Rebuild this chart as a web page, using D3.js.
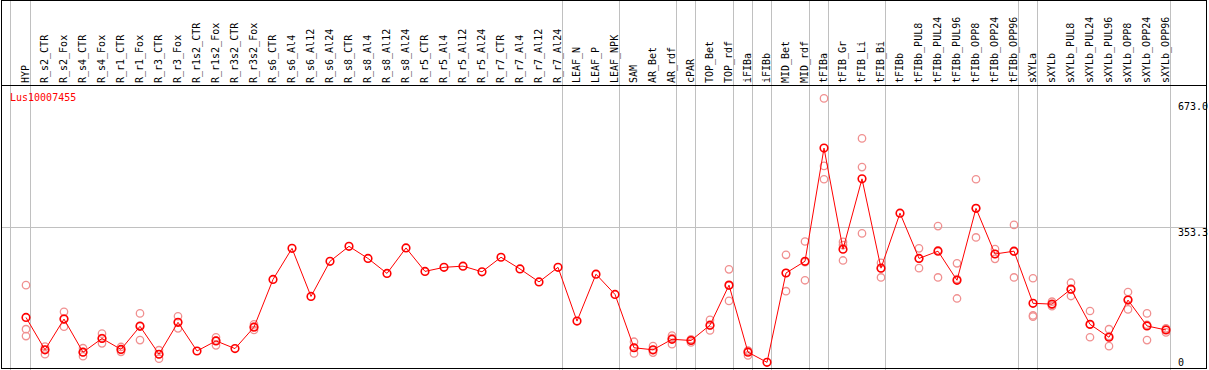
<!DOCTYPE html>
<html>
<head>
<meta charset="utf-8">
<script src="https://cdn.jsdelivr.net/npm/d3@7"></script>
<style>
  body { margin: 0; background: #fff; }
  svg { display: block; }
  text { font-family: "DejaVu Sans Mono", "Liberation Mono", monospace; font-size: 10px; }
</style>
</head>
<body>
<svg id="chart" width="1209" height="370"></svg>
<script>
// sample names, in column order
const samples = ["HYP", "R_s2_CTR", "R_s2_Fox", "R_s4_CTR", "R_s4_Fox", "R_r1_CTR", "R_r1_Fox",
  "R_r3_CTR", "R_r3_Fox", "R_r1s2_CTR", "R_r1s2_Fox", "R_r3s2_CTR", "R_r3s2_Fox", "R_s6_CTR",
  "R_s6_Al4", "R_s6_Al12", "R_s6_Al24", "R_s8_CTR", "R_s8_Al4", "R_s8_Al12", "R_s8_Al24",
  "R_r5_CTR", "R_r5_Al4", "R_r5_Al12", "R_r5_Al24", "R_r7_CTR", "R_r7_Al4", "R_r7_Al12",
  "R_r7_Al24", "LEAF_N", "LEAF_P", "LEAF_NPK", "SAM", "AR_Bet", "AR_rdf", "cPAR", "TOP_Bet",
  "TOP_rdf", "iFIBa", "iFIBb", "MID_Bet", "MID_rdf", "tFIBa", "tFIB_Gr", "tFIB_Li", "tFIB_Bi",
  "tFIBb", "tFIBb_PUL8", "tFIBb_PUL24", "tFIBb_PUL96", "tFIBb_OPP8", "tFIBb_OPP24", "tFIBb_OPP96",
  "sXYLa", "sXYLb", "sXYLb_PUL8", "sXYLb_PUL24", "sXYLb_PUL96", "sXYLb_OPP8", "sXYLb_OPP24",
  "sXYLb_OPP96"];

// mean expression per sample
const means = [130, 50, 126, 44, 78, 51, 108, 39, 118, 47, 72, 53, 106, 224,
  301, 182, 269, 306, 276, 239, 302, 244, 254, 257, 243, 279, 250, 218,
  254, 121, 237, 187, 55, 50, 76, 73, 111, 210, 44, 19, 240, 269,
  549, 299, 473, 252, 388, 276, 294, 222, 400, 287, 294,
  165, 163, 200, 113, 81, 173, 109, 99];

// individual replicates (empty where they sit under the mean)
const replicates = [[210, 101, 84], [58, 39, 50], [144, 107, 127], [54, 34, 44], [90, 66, 79],
  [57, 45, 51], [140, 74, 110], [49, 28, 39], [133, 103, 118], [], [81, 61, 73], [], [113, 99, 107],
  [], [], [], [], [], [], [], [], [], [], [], [], [], [], [], [], [], [], [],
  [70, 41, 55], [59, 43, 49], [85, 64, 79], [68, 76, 73], [124, 98, 110], [249, 171, 209],
  [48, 36, 47], [], [285, 195, 240], [318, 222, 267], [672, 505, 472], [317, 309, 271],
  [573, 502, 338], [265, 229, 252], [], [301, 252, 276], [356, 229, 296], [264, 177, 225],
  [472, 328, 400], [299, 275, 287], [359, 229, 293], [227, 135, 132], [169, 161, 158],
  [216, 183, 200], [146, 81, 112], [101, 59, 84], [193, 150, 175], [140, 74, 112], [103, 93, 101]];

// a grey separator follows each of these samples
const groupEnds = ["HYP", "R_r7_Al24", "LEAF_NPK", "AR_rdf", "cPAR", "TOP_rdf", "iFIBa", "iFIBb",
  "MID_rdf", "tFIBa", "tFIB_Bi", "tFIBb_OPP96", "sXYLa", "sXYLb_OPP96"];

const axisTicks = [0, 353.3, 673.0];
const geneId = "Lus10007455";

const svg = d3.select("#chart");
const W = 1209, H = 370, headerBottom = 85;

const x = d3.scaleBand().domain(samples).range([16.5, 16.5 + samples.length * 19]);
const cx = d => Math.round(x(d) + x.bandwidth() / 2);
const y = d3.scaleLinear().domain([0, 673]).range([370, 98]);

// group separators
let sepX = [cx(samples[0]) - 15.5].concat(groupEnds.map(d => cx(d) + 4.5));
svg.append("g").selectAll("line").data(sepX).join("line")
  .attr("x1", d => d).attr("x2", d => d)
  .attr("y1", 0).attr("y2", H)
  .attr("stroke", "#c0c0c0").attr("stroke-width", 1);

// mid grid line
svg.append("line")
  .attr("x1", 1).attr("x2", W - 2)
  .attr("y1", Math.round(y(353.3)) + 0.5).attr("y2", Math.round(y(353.3)) + 0.5)
  .attr("stroke", "#c0c0c0");

// frame + header line
svg.append("rect").attr("x", 1.5).attr("y", 0.5).attr("width", W - 4).attr("height", H - 2)
  .attr("fill", "none").attr("stroke", "#000");
svg.append("line").attr("x1", 1).attr("x2", W - 2)
  .attr("y1", headerBottom + 0.5).attr("y2", headerBottom + 0.5).attr("stroke", "#000");

// column labels, rotated
svg.append("g").selectAll("text").data(samples).join("text")
  .attr("transform", d => `translate(${cx(d) + 2.5},${headerBottom - 2}) rotate(-90)`)
  .attr("fill", "#000")
  .text(d => d);

// right value labels
svg.append("g").selectAll("text").data(axisTicks).join("text")
  .attr("x", 1178)
  .attr("y", d => Math.max(106, Math.min(362, y(d) + 5)))
  .attr("dy", "0.35em")
  .attr("fill", "#000")
  .text(d => d === 0 ? "0" : d3.format(".1f")(d));

svg.append("text").attr("x", 10).attr("y", 101).attr("fill", "#f00").text(geneId);

// replicate markers
let repPts = [];
replicates.forEach((r, i) => r.forEach(v => repPts.push({ s: samples[i], v: v })));
svg.append("g").selectAll("circle").data(repPts).join("circle")
  .attr("cx", d => cx(d.s)).attr("cy", d => y(d.v)).attr("r", 3.7)
  .attr("fill", "none").attr("stroke", "#f09090").attr("stroke-width", 1.3);

// mean line + markers
const line = d3.line().x((d, i) => cx(samples[i])).y(d => y(d));
svg.append("path").datum(means).attr("d", line)
  .attr("fill", "none").attr("stroke", "#f00").attr("stroke-width", 1);
svg.append("g").selectAll("circle").data(means).join("circle")
  .attr("cx", (d, i) => cx(samples[i])).attr("cy", d => y(d)).attr("r", 3.8)
  .attr("fill", "none").attr("stroke", "#f00").attr("stroke-width", 1.6);
</script>
</body>
</html>
